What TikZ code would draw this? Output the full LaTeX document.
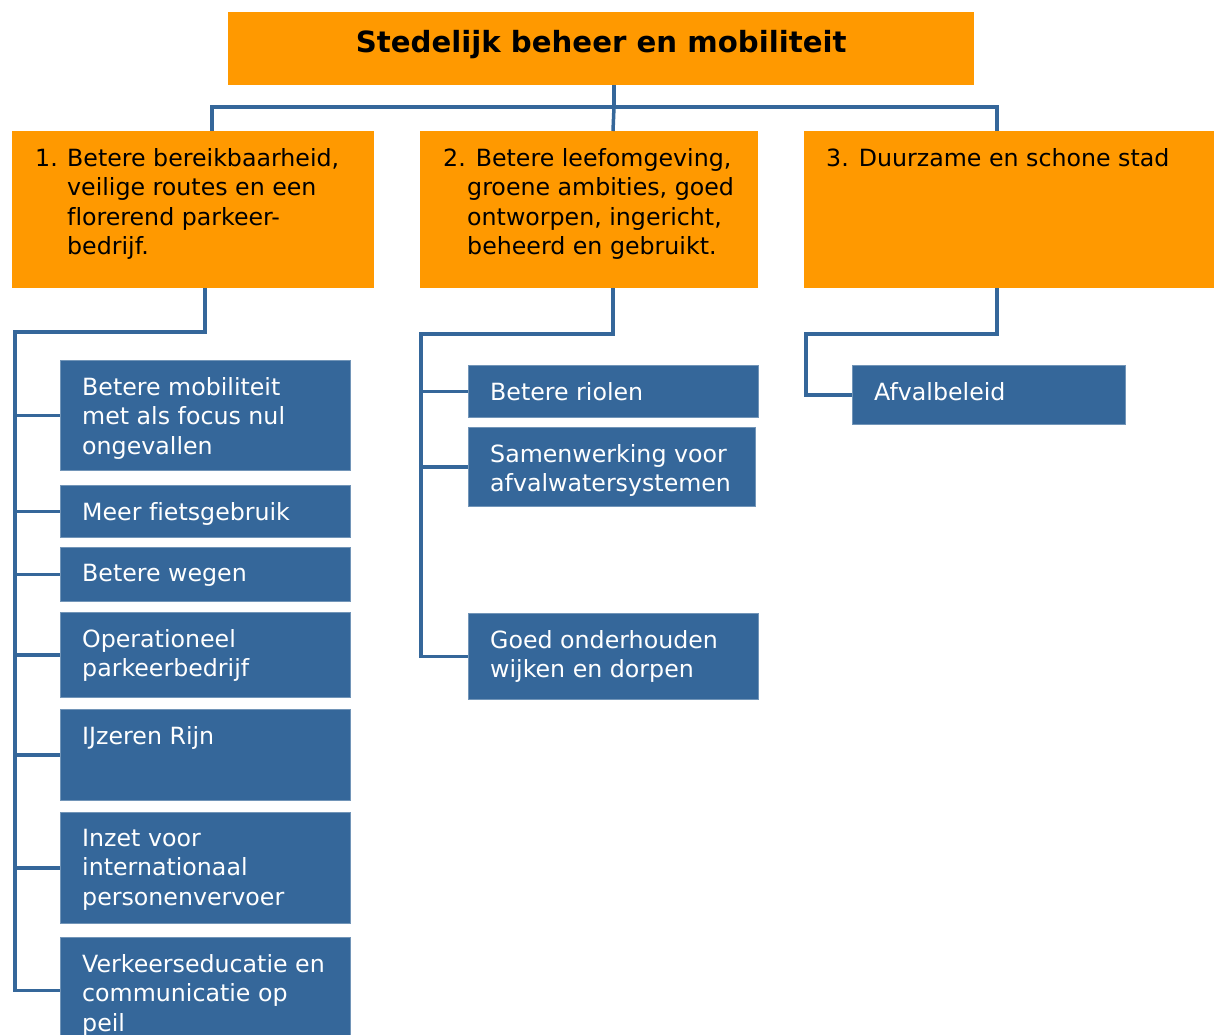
\documentclass[tikz,border=0pt]{standalone}
\usepackage{fontspec}
\setmainfont{DejaVu Sans}[Ligatures=NoCommon]
\usetikzlibrary{positioning,calc}

\definecolor{oranje}{HTML}{FF9900}
\definecolor{blauw}{HTML}{35679A}
\newcommand{\boxfont}{\fontsize{23.7}{29.5}\selectfont}
\newcommand{\nr}[2][32pt]{\makebox[#1][l]{#2}}

\tikzset{
  orangebox/.style={fill=oranje, inner sep=0, anchor=north west},
  bluebox/.style={fill=blauw, draw=blauw!70!white, line width=0.8pt, inner sep=0, anchor=north west},
  otxt/.style={anchor=north west, inner sep=0, align=left, font=\boxfont, text=black},
  btxt/.style={anchor=north west, inner sep=0, align=left, font=\boxfont, text=white},
  conn/.style={draw=blauw, line width=3.5pt}
}

\begin{document}
\begin{tikzpicture}[x=1pt, y=-1pt]
  \useasboundingbox (0,0) rectangle (1218,1035);

  % Title
  \node[orangebox, minimum width=746, minimum height=73] (kop) at (228,12) {};
  \node[font=\fontsize{29.2}{34}\selectfont\bfseries, inner sep=0] (kopt) at ([yshift=4pt]kop.center) {Stedelijk beheer en mobiliteit};

  % Themes
  \node[orangebox, minimum width=362, minimum height=157] (o1) at (12,131) {};
  \node[orangebox, minimum width=338, minimum height=157] (o2) at (420,131) {};
  \node[orangebox, minimum width=410, minimum height=157] (o3) at (804,131) {};
  \node[otxt] (o1t) at ([shift={(23,17)}]o1.north west)
    {\nr{1.}Betere bereikbaarheid,\\\nr{}veilige routes en een\\\nr{}florerend parkeer-\\\nr{}bedrijf.};
  \node[otxt] (o2t) at ([shift={(23,17)}]o2.north west)
    {2. Betere leefomgeving,\\\nr[24pt]{}groene ambities, goed\\\nr[24pt]{}ontworpen, ingericht,\\\nr[24pt]{}beheerd en gebruikt.};
  \node[otxt] (o3t) at ([shift={(22,17)}]o3.north west) {3. Duurzame en schone stad};

  % Column 1
  \node[bluebox, minimum width=290, minimum height=110] (b1) at (60,360) {};
  \node[bluebox, minimum width=290, minimum height=52] (b2) at (60,485) {};
  \node[bluebox, minimum width=290, minimum height=54] (b3) at (60,547) {};
  \node[bluebox, minimum width=290, minimum height=85] (b4) at (60,612) {};
  \node[bluebox, minimum width=290, minimum height=91] (b5) at (60,709) {};
  \node[bluebox, minimum width=290, minimum height=111] (b6) at (60,812) {};
  \node[bluebox, minimum width=290, minimum height=106] (b7) at (60,937) {};
  \node[btxt] (b1t) at ([shift={(22,17)}]b1.north west) {Betere mobiliteit\\met als focus nul\\ongevallen};
  \node[btxt] (b2t) at ([shift={(22,17)}]b2.north west) {Meer fietsgebruik};
  \node[btxt] (b3t) at ([shift={(22,17)}]b3.north west) {Betere wegen};
  \node[btxt] (b4t) at ([shift={(22,17)}]b4.north west) {Operationeel\\parkeerbedrijf};
  \node[btxt] (b5t) at ([shift={(22,17)}]b5.north west) {IJzeren Rijn};
  \node[btxt] (b6t) at ([shift={(22,17)}]b6.north west) {Inzet voor\\internationaal\\personenvervoer};
  \node[btxt] (b7t) at ([shift={(22,17)}]b7.north west) {Verkeerseducatie en\\communicatie op\\peil};

  % Column 2
  \node[bluebox, minimum width=290, minimum height=52] (c1) at (468,365) {};
  \node[bluebox, minimum width=287, minimum height=79] (c2) at (468,427) {};
  \node[bluebox, minimum width=290, minimum height=86] (c3) at (468,613) {};
  \node[btxt] (c1t) at ([shift={(22,17)}]c1.north west) {Betere riolen};
  \node[btxt] (c2t) at ([shift={(22,17)}]c2.north west) {Samenwerking voor\\afvalwatersystemen};
  \node[btxt] (c3t) at ([shift={(22,17)}]c3.north west) {Goed onderhouden\\wijken en dorpen};

  % Column 3
  \node[bluebox, minimum width=273, minimum height=59] (d1) at (852,365) {};
  \node[btxt] (d1t) at ([shift={(22,17)}]d1.north west) {Afvalbeleid};

  % Connectors
  \coordinate (hub) at (614,107);
  \draw[conn] (kop.south -| hub) -- (hub);
  \draw[conn] (o1.north -| 212,0) |- (hub) -| (o3.north -| 997,0);
  \draw[conn] (hub) -- (o2.north -| 613,0);

  \draw[conn] (o1.south -| 205,0) -- (205,332) -| (b7.west -| 15,0) -- (b7.west);
  \foreach \b in {b1,b2,b3,b4,b5,b6}
    \draw[conn] (\b.west -| 15,0) -- (\b.west);

  \draw[conn] (o2.south -| 613,0) -- (613,334) -| (c3.west -| 421,0) -- (c3.west);
  \foreach \c in {c1,c2}
    \draw[conn] (\c.west -| 421,0) -- (\c.west);

  \draw[conn] (o3.south -| 997,0) -- (997,334) -| (d1.west -| 806,0) -- (d1.west);
\end{tikzpicture}
\end{document}
